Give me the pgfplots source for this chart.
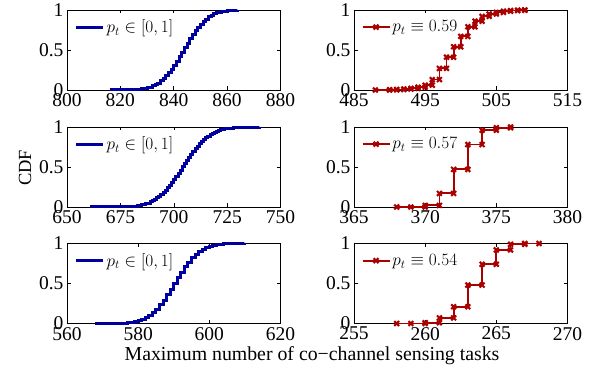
\documentclass[border=0pt]{standalone}
\usepackage{fontspec}
\setmainfont{Liberation Serif}
\usepackage{pgfplots}
\pgfplotsset{compat=1.18}
\definecolor{myblue}{RGB}{0,0,160}
\definecolor{myred}{RGB}{170,0,0}
\pgfplotsset{
  myax/.style={
    scale only axis, width=213.5pt, height=80pt, anchor=south west,
    ymin=0, ymax=1, ytick={0,0.5,1},
    tick align=inside, major tick length=3.5pt,
    axis line style={line width=0.6pt},
    every tick/.style={black, line width=0.5pt},
    ticklabel style={font=\fontsize{19.5}{19.5}\selectfont},
    /pgf/number format/assume math mode=true,
    clip=false,
    legend style={draw=none, fill=none, at={(axis description cs:0.035,0.786)}, anchor=west,
      font=\fontsize{17}{17}\selectfont, inner sep=0pt, nodes={inner sep=2pt}},
    legend cell align=left,
    legend image code/.code={\draw[mark repeat=2,mark phase=2,##1] plot coordinates {(0pt,0pt) (13.5pt,0pt) (27pt,0pt)};},
  },
  blueline/.style={myblue, line width=3pt, const plot, no marks},
  redline/.style={myred, line width=1.8pt, mark=x, mark size=3.4pt, mark options={line width=2.1pt}},
}
\begin{document}
\begin{tikzpicture}
\useasboundingbox (0pt,0pt) rectangle (597pt,372pt);
% ---------- top left
\begin{axis}[myax, at={(67pt,282pt)}, xmin=800, xmax=880, xtick={800,820,840,860,880}]
\addplot[blueline] coordinates {
(816,0) (818,0.0001) (820,0.0004) (822,0.001) (824,0.003) (826,0.006) (827,0.009)
(828,0.014) (829,0.019) (830,0.027) (831,0.037) (832,0.050) (833,0.067) (834,0.087)
(835,0.113) (836,0.142) (837,0.176) (838,0.215) (839,0.261) (840,0.309) (841,0.360)
(842,0.417) (843,0.472) (844,0.528) (845,0.583) (846,0.640) (847,0.691) (848,0.739)
(849,0.785) (850,0.824) (851,0.858) (852,0.887) (853,0.913) (854,0.933) (855,0.950)
(856,0.963) (857,0.973) (858,0.981) (859,0.986) (860,0.991) (861,0.994) (862,0.996)
(863,0.997) (864,1)};
\addlegendentry{$p_t\in[0,1]$}
\end{axis}
% ---------- top right
\begin{axis}[myax, at={(354pt,282pt)}, xmin=485, xmax=515, xtick={485,495,505,515}]
\addplot[redline] coordinates {
(488,0) (490,0) (490,0.003) (491,0.003) (491,0.006) (492,0.006) (492,0.012) (493,0.012)
(493,0.02) (494,0.02) (494,0.035) (495,0.035) (495,0.06) (496,0.06) (496,0.13) (497,0.13)
(497,0.27) (498,0.27) (498,0.41) (499,0.41) (499,0.54) (500,0.54) (500,0.67) (501,0.67)
(501,0.79) (502,0.79) (502,0.86) (503,0.86) (503,0.92) (504,0.92) (504,0.95) (505,0.95)
(505,0.97) (506,0.97) (506,0.985) (507,0.985) (507,0.993) (508,0.993) (508,0.997) (509,0.997) (509,1)};
\addlegendentry{$p_t\equiv0.59$}
\end{axis}
% ---------- middle left
\begin{axis}[myax, at={(67pt,165pt)}, xmin=650, xmax=750, xtick={650,675,700,725,750}]
\addplot[blueline] coordinates {
(661,0) (665,0.00005) (668,0.0002) (671,0.0005) (674,0.0013) (677,0.0035) (679,0.006)
(681,0.011) (683,0.018) (685,0.029) (687,0.045) (689,0.067) (690,0.081) (691,0.097)
(692,0.115) (693,0.136) (694,0.159) (695,0.184) (696,0.212) (697,0.242) (698,0.274)
(699,0.309) (700,0.345) (701,0.382) (702,0.421) (703,0.460) (704,0.500) (705,0.540)
(706,0.579) (707,0.618) (708,0.655) (709,0.691) (710,0.726) (711,0.758) (712,0.788)
(713,0.816) (714,0.841) (715,0.864) (716,0.885) (717,0.903) (718,0.919) (719,0.933)
(720,0.945) (721,0.955) (722,0.964) (723,0.971) (724,0.977) (726,0.986) (728,0.992)
(730,0.995) (732,0.997) (735,0.999) (740,1)};
\addlegendentry{$p_t\in[0,1]$}
\end{axis}
% ---------- middle right
\begin{axis}[myax, at={(354pt,165pt)}, xmin=365, xmax=380, xtick={365,370,375,380}]
\addplot[redline] coordinates {
(368,0) (369,0) (370,0) (370,0.02) (371,0.02) (371,0.17) (372,0.17) (372,0.47)
(373,0.47) (373,0.78) (374,0.78) (374,0.96) (375,0.96) (375,0.99) (376,0.99) (376,1)};
\addlegendentry{$p_t\equiv0.57$}
\end{axis}
% ---------- bottom left
\begin{axis}[myax, at={(67pt,48.5pt)}, xmin=560, xmax=620, xtick={560,580,600,620}]
\addplot[blueline] coordinates {
(568,0) (571,0.0003) (574,0.002) (576,0.005) (577,0.009) (578,0.015) (579,0.023)
(580,0.034) (581,0.051) (582,0.073) (583,0.102) (584,0.138) (585,0.181) (586,0.233)
(587,0.291) (588,0.359) (589,0.429) (590,0.5) (591,0.571) (592,0.641) (593,0.709)
(594,0.767) (595,0.819) (596,0.862) (597,0.898) (598,0.927) (599,0.949) (600,0.963)
(601,0.975) (602,0.984) (603,0.990) (604,0.994) (606,0.998) (610,1)};
\addlegendentry{$p_t\in[0,1]$}
\end{axis}
% ---------- bottom right
\begin{axis}[myax, at={(354pt,48.5pt)}, xmin=255, xmax=270, xtick={255,260,265,270}]
\addplot[redline] coordinates {
(258,0) (259,0) (260,0) (260,0.01) (261,0.01) (261,0.07) (262,0.07) (262,0.21)
(263,0.21) (263,0.48) (264,0.48) (264,0.74) (265,0.74) (265,0.92) (266,0.92) (266,0.99)
(267,0.99) (267,1) (268,1)};
\addlegendentry{$p_t\equiv0.54$}
\end{axis}
\node[font=\fontsize{19.8}{19.8}\selectfont] at (312pt,16pt) {Maximum number of co−channel sensing tasks};
\node[font=\fontsize{18.5}{18.5}\selectfont, rotate=90] at (25pt,204pt) {CDF};
\end{tikzpicture}
\end{document}
